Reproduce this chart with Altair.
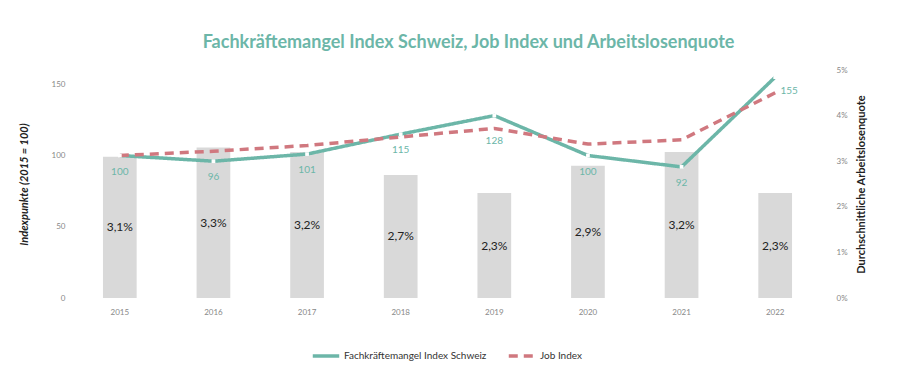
import altair as alt
import pandas as pd

years = ["2015", "2016", "2017", "2018", "2019", "2020", "2021", "2022"]
fachkraefte = [100, 96, 101, 115, 128, 100, 92, 155]
job_index = [100, 103, 107, 113, 119, 108, 111, 144]
arbeitslosenquote = [3.1, 3.3, 3.2, 2.7, 2.3, 2.9, 3.2, 2.3]

S1 = "Fachkräftemangel Index Schweiz"
S2 = "Job Index"
TEAL = "#6cb6a8"
PINK = "#d0787f"
FONT = "Lato"

bars_df = pd.DataFrame({"year": years, "rate": arbeitslosenquote})
lines_df = pd.DataFrame(
    {"year": years * 2,
     "value": fachkraefte + job_index,
     "series": [S1] * len(years) + [S2] * len(years)}
)
fk_df = pd.DataFrame({"year": years, "value": fachkraefte})

x_enc = alt.X("year:O", title=None,
              scale=alt.Scale(paddingInner=0.64, paddingOuter=0.32),
              axis=alt.Axis(labelAngle=0, ticks=False, domain=False,
                            labelColor="#888888", labelFontSize=8, labelPadding=10,
                            labelFont=FONT))

y_rate = alt.Y("rate:Q", scale=alt.Scale(domain=[0, 5]),
               axis=alt.Axis(orient="right", values=[0, 1, 2, 3, 4, 5],
                             labelExpr="datum.value + '%'", grid=False,
                             ticks=False, domain=False, labelColor="#888888",
                             labelFontSize=8, labelPadding=14, labelFont=FONT,
                             title="Durchschnittliche Arbeitslosenquote",
                             titleFontSize=11, titleFont=FONT, titleColor="#222222",
                             titleFontWeight="bold", titlePadding=8, titleAngle=270,
                             titleBaseline="top"))

bars = alt.Chart(bars_df).mark_bar(color="#d9d9d9").encode(x=x_enc, y=y_rate)
bar_text = alt.Chart(bars_df).transform_calculate(
    half="datum.rate / 2",
    lab="replace(format(datum.rate, '.1f'), '.', ',') + '%'"
).mark_text(fontSize=12, font=FONT, color="#222222").encode(
    x=alt.X("year:O"), y=alt.Y("half:Q"), text="lab:N")

bar_layer = alt.layer(bars, bar_text)

y_val = alt.Y("value:Q", scale=alt.Scale(domain=[0, 160]),
              axis=alt.Axis(orient="left", values=[0, 50, 100, 150],
                            ticks=False, domain=False, labelColor="#888888",
                            labelFontSize=8, labelPadding=8, labelFont=FONT,
                            gridColor="#e6e6e6", gridWidth=1.5,
                            title="Indexpunkte (2015 = 100)", titleFontSize=11,
                            titleFont=FONT, titleColor="#222222",
                            titleFontWeight="bold", titleFontStyle="italic",
                            titlePadding=22))

lines = alt.Chart(lines_df).mark_line(strokeWidth=3.5).encode(
    x=alt.X("year:O"),
    y=y_val,
    color=alt.Color("series:N", scale=alt.Scale(domain=[S1, S2], range=[TEAL, PINK]),
                    legend=alt.Legend(title=None, orient="none", direction="horizontal",
                                      legendX=238, legendY=271, symbolType="stroke",
                                      symbolStrokeWidth=3.5, symbolSize=700,
                                      labelFontSize=10, labelFont=FONT, labelOffset=3,
                                      labelColor="#333333", columnPadding=14)),
    strokeDash=alt.StrokeDash("series:N",
                              scale=alt.Scale(domain=[S1, S2], range=[[1, 0], [9, 6]]),
                              legend=None),
    order=alt.Order("year:O"),
)

points = alt.Chart(fk_df).mark_point(shape="square", filled=True, color="white",
                                     size=14, opacity=1).encode(
    x=alt.X("year:O"), y=alt.Y("value:Q"))

labels = alt.Chart(fk_df).transform_filter(
    "datum.year != '2022' && datum.year != '2019'").mark_text(
    dy=16, fontSize=10, font=FONT, color=TEAL).encode(
    x=alt.X("year:O"), y=alt.Y("value:Q"), text="value:Q")
label_2019 = alt.Chart(fk_df).transform_filter("datum.year == '2019'").mark_text(
    dy=25, fontSize=10, font=FONT, color=TEAL).encode(
    x=alt.X("year:O"), y=alt.Y("value:Q"), text="value:Q")
label_last = alt.Chart(fk_df).transform_filter("datum.year == '2022'").mark_text(
    dy=14, dx=14, fontSize=10, font=FONT, color=TEAL).encode(
    x=alt.X("year:O"), y=alt.Y("value:Q"), text="value:Q")

line_layer = alt.layer(lines, points, labels, label_2019, label_last)

chart = alt.layer(bar_layer, line_layer).resolve_scale(y="independent").properties(
    width=749, height=228,
    title=alt.Title("Fachkräftemangel Index Schweiz, Job Index und Arbeitslosenquote",
                    font=FONT, fontSize=18, fontWeight="bold", color=TEAL,
                    anchor="middle", dx=21, offset=14),
    autosize=alt.AutoSizeParams(type="none"),
    padding={"left": 65, "top": 62, "right": 77, "bottom": 70},
).configure_view(stroke=None)

chart.save("out.html", embed_options={"renderer": "svg", "actions": False})
